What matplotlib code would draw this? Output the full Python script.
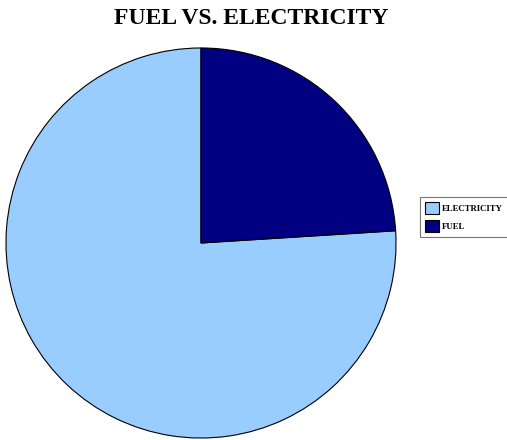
import matplotlib.pyplot as plt
from matplotlib.patches import Patch

# Parcelas do consumo
categorias = ['ELECTRICITY', 'FUEL']
valores = [76, 24]
cores = ['#99ccff', '#000080']

fig = plt.figure(figsize=(5.07, 4.4), dpi=100)
ax = fig.add_axes([5 / 507, 1 / 440, 392 / 507, 392 / 440])

ax.pie(valores, colors=cores, startangle=90, counterclock=True, radius=1,
       wedgeprops={'edgecolor': 'black', 'linewidth': 0.8})
ax.set_xlim(-1.005, 1.005)
ax.set_ylim(-1.005, 1.005)
ax.set_aspect('equal')

fig.text(251 / 507, 1 - 18 / 440, 'FUEL VS. ELECTRICITY', ha='center', va='center',
         fontsize=17, fontweight='bold', family='Liberation Serif')

handles = [Patch(facecolor=c, edgecolor='black', linewidth=0.8) for c in cores]
leg = fig.legend(handles, categorias, loc='center left',
                 bbox_to_anchor=(420 / 507, 1 - 217 / 440),
                 prop={'family': 'Liberation Serif', 'weight': 'bold', 'size': 6.3},
                 frameon=True, fancybox=False, handlelength=1.6, handleheight=1.6,
                 handletextpad=0.35, borderpad=0.6, labelspacing=0.75, borderaxespad=0)
leg.get_frame().set_edgecolor('#555555')
leg.get_frame().set_linewidth(0.8)

fig.savefig('out.png', dpi=100)
